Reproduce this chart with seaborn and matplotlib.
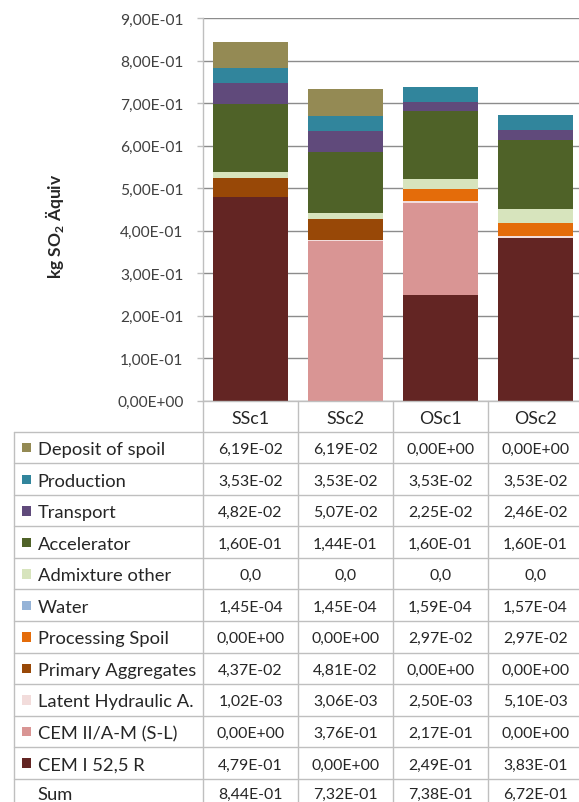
import matplotlib
matplotlib.use("Agg")
import matplotlib.pyplot as plt
from matplotlib.lines import Line2D
from matplotlib.patches import Rectangle
from matplotlib.ticker import FuncFormatter
import numpy as np
import seaborn as sns

# scenarios (x categories)
scenarios = ["SSc1", "SSc2", "OSc1", "OSc2"]

# impact per contributor, kg SO2 equiv (stack order: bottom -> top)
cem1 = [4.79e-01, 0.00e+00, 2.49e-01, 3.83e-01]
cem2 = [0.00e+00, 3.76e-01, 2.17e-01, 0.00e+00]
latent = [1.02e-03, 3.06e-03, 2.50e-03, 5.10e-03]
primary = [4.37e-02, 4.81e-02, 0.00e+00, 0.00e+00]
processing = [0.00e+00, 0.00e+00, 2.97e-02, 2.97e-02]
water = [1.45e-04, 1.45e-04, 1.59e-04, 1.57e-04]
admixture = [0.015, 0.013, 0.022, 0.034]
accelerator = [1.60e-01, 1.44e-01, 1.60e-01, 1.60e-01]
transport = [4.82e-02, 5.07e-02, 2.25e-02, 2.46e-02]
production = [3.53e-02, 3.53e-02, 3.53e-02, 3.53e-02]
deposit = [6.19e-02, 6.19e-02, 0.00e+00, 0.00e+00]

layers = [
    ("CEM I 52,5 R", cem1, "#632523"),
    ("CEM II/A-M (S-L)", cem2, "#D99594"),
    ("Latent Hydraulic A.", latent, "#F2DCDB"),
    ("Primary Aggregates", primary, "#984807"),
    ("Processing Spoil", processing, "#E46C0A"),
    ("Water", water, "#95B3D7"),
    ("Admixture other", admixture, "#D7E4BD"),
    ("Accelerator", accelerator, "#4F6228"),
    ("Transport", transport, "#604A7B"),
    ("Production", production, "#31859C"),
    ("Deposit of spoil", deposit, "#948A54"),
]

sns.set_style("white")
plt.rcParams["font.family"] = ["Lato", "DejaVu Sans"]
plt.rcParams["mathtext.fontset"] = "custom"
plt.rcParams["mathtext.rm"] = "Lato"
plt.rcParams["mathtext.bf"] = "Lato:bold"

W, H = 579, 803
fig = plt.figure(figsize=(W / 100, H / 100), dpi=100)


# pixel -> figure fraction helpers
def fx(px):
    return px / W


def fy(py):
    return 1 - py / H


x0, col_w = 203, 95
y_top, y_bot = 19, 401.7
ax = fig.add_axes([fx(x0), fy(y_bot), 4 * col_w / W, (y_bot - y_top) / H])

# stacked bars: draw cumulative totals from the top layer down
cum = np.cumsum([np.array(v) for _, v, _ in layers], axis=0)
for i in reversed(range(len(layers))):
    sns.barplot(x=scenarios, y=cum[i], color=layers[i][2], saturation=1,
                width=0.79, ax=ax, linewidth=0)

ax.set_xlim(-0.5, 3.5)
ax.set_ylim(0, 0.9)
ax.set_yticks(np.arange(0, 0.91, 0.1))
ax.yaxis.set_major_formatter(
    FuncFormatter(lambda v, p: f"{v:.2E}".replace(".", ",")))
ax.set_axisbelow(True)
ax.grid(axis="y", color="#8C8C8C", linewidth=1)
ax.grid(axis="x", visible=False)
for s in ["top", "right"]:
    ax.spines[s].set_visible(False)
for s in ["left", "bottom"]:
    ax.spines[s].set_color("#BFBFBF")
    ax.spines[s].set_linewidth(1)
ax.tick_params(axis="y", length=4.5, width=1, color="#BFBFBF", pad=9.5,
               labelsize=11.2, labelcolor="#404040", left=True)
ax.tick_params(axis="x", length=0, pad=7, labelsize=12.8,
               labelcolor="#262626")
ax.set_xlabel("")
ax.set_ylabel("")

# y axis title
fig.text(fx(55), fy(226), r"kg SO$_\mathbf{2}$ Äquiv", rotation=90,
         ha="center", va="center", fontsize=12.5, fontweight="bold",
         color="#262626")

# data table below the chart
line_c = "#BFBFBF"
row_h = 31.55
t_top = 432.7
n_rows = len(layers) + 1
# horizontal lines
for k in range(n_rows + 1):
    yy = t_top + k * row_h
    fig.add_artist(Line2D([fx(14.3), 1], [fy(yy), fy(yy)], color=line_c,
                          linewidth=1))
# vertical lines
fig.add_artist(Line2D([fx(14.3), fx(14.3)], [fy(t_top), 0], color=line_c,
                      linewidth=1))
for j in range(4):
    xx = x0 + j * col_w
    fig.add_artist(Line2D([fx(xx), fx(xx)], [fy(y_bot), 0], color=line_c,
                          linewidth=1))

rows = [(name, vals, c) for name, vals, c in reversed(layers)]
sums = cum[-1]
rows.append(("Sum", sums, None))
for r, (name, vals, c) in enumerate(rows):
    yc = t_top + (r + 0.5) * row_h
    if name == "Sum":
        yc -= 2
    if c is not None:
        fig.add_artist(Rectangle((fx(21.5), fy(yc + 5)), 9.5 / W, 9.5 / H,
                                 facecolor=c, edgecolor="none"))
    fig.text(fx(37.5), fy(yc), name, ha="left", va="center_baseline",
             fontsize=13.2, color="#262626")
    for j, v in enumerate(vals):
        if name == "Admixture other":
            s = f"{v:.1f}"
        else:
            s = f"{v:.2E}"
        fig.text(fx(x0 + (j + 0.5) * col_w), fy(yc), s.replace(".", ","),
                 ha="center", va="center_baseline", fontsize=11.4,
                 color="#262626")

plt.savefig("out.png", dpi=100)
